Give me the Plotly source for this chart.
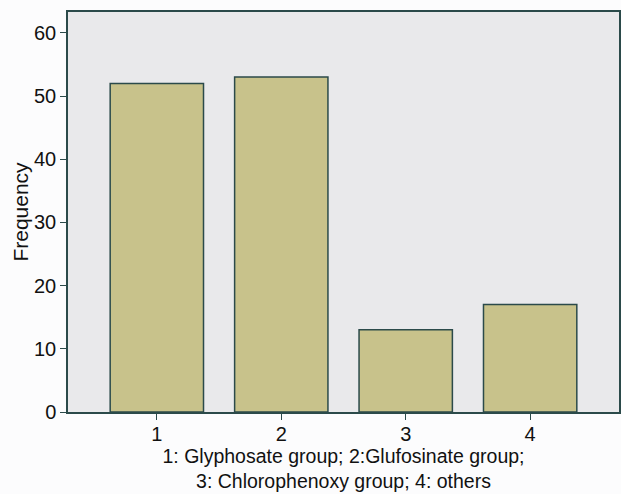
import plotly.graph_objects as go

categories = [1, 2, 3, 4]
frequency = [52, 53, 13, 17]
y_ticks = [0, 10, 20, 30, 40, 50, 60]

fig = go.Figure()
fig.add_trace(go.Bar(
    x=categories, y=frequency, width=0.75,
    marker=dict(color="#c8c28b", line=dict(color="#2b4a4a", width=1.5)),
))
font = dict(family="Liberation Sans, Arial, sans-serif", size=20, color="#111")
fig.update_layout(
    width=621, height=494,
    margin=dict(l=68, r=2, t=12, b=82),
    paper_bgcolor="#fcfcfd", plot_bgcolor="#e9e9eb",
    font=font, showlegend=False, bargap=0.25,
    xaxis=dict(range=[0.286, 4.714], tickvals=categories, ticktext=[str(c) for c in categories],
               ticks="outside", ticklen=6, tickcolor="#2b4a4a", showgrid=False, zeroline=False,
               showline=True, linecolor="#2b4a4a", linewidth=1.5, mirror=True, automargin=False,
               ticklabelstandoff=-3,
               title=dict(text="1: Glyphosate group; 2:Glufosinate group;<br>3: Chlorophenoxy group; 4: others",
                          font=dict(size=19.5), standoff=0)),
    yaxis=dict(range=[0, 63.3], tickvals=y_ticks, ticks="outside", ticklen=6, tickcolor="#2b4a4a",
               showgrid=False, zeroline=False, showline=True, linecolor="#2b4a4a", linewidth=1.5, mirror=True,
               automargin=False, ticklabelstandoff=0,
               title=dict(text="Frequency", font=dict(size=21), standoff=0)),
)
fig.write_html("out.html", config={"displayModeBar": False},
               post_script="document.body.style.margin='0';document.body.style.overflow='hidden';")
